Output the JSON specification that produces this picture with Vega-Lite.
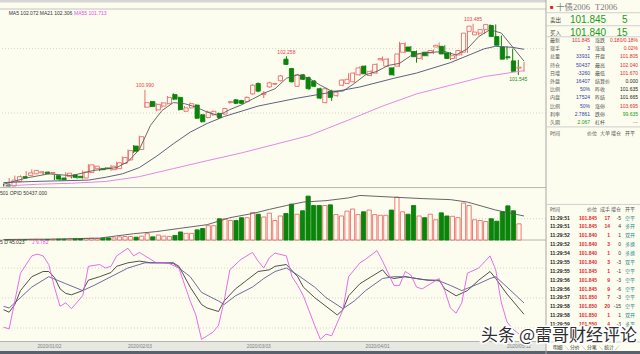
{
"$schema":"https://vega.github.io/schema/vega-lite/v6.json",
"width":640,"height":354,"padding":0,"autosize":{"type":"none"},
"background":"#fdfdef",
"config":{"view":{"stroke":null},"text":{"font":"Liberation Sans, Noto Sans CJK SC","baseline":"middle"}},
"datasets":{
"candles":[
{"i":0,"o":97.40,"h":97.45,"l":97.345,"c":97.36,"v":800},
{"i":1,"o":97.359,"h":97.661,"l":97.35,"c":97.582,"v":1000},
{"i":2,"o":97.529,"h":97.752,"l":97.49,"c":97.713,"v":1200},
{"i":3,"o":97.713,"h":97.752,"l":97.621,"c":97.661,"v":900},
{"i":4,"o":97.752,"h":97.923,"l":97.713,"c":97.857,"v":1300},
{"i":5,"o":97.818,"h":97.989,"l":97.779,"c":97.949,"v":1500},
{"i":6,"o":97.857,"h":97.949,"l":97.818,"c":97.897,"v":1200},
{"i":7,"o":97.884,"h":97.923,"l":97.792,"c":97.831,"v":1100},
{"i":8,"o":97.844,"h":97.91,"l":97.792,"c":97.87,"v":1300},
{"i":9,"o":97.752,"h":97.792,"l":97.582,"c":97.621,"v":1600},
{"i":10,"o":97.661,"h":97.713,"l":97.556,"c":97.595,"v":1500},
{"i":11,"o":97.713,"h":97.884,"l":97.661,"c":97.844,"v":1700},
{"i":12,"o":97.779,"h":97.818,"l":97.648,"c":97.687,"v":2300},
{"i":13,"o":97.726,"h":97.752,"l":97.634,"c":97.674,"v":3000},
{"i":14,"o":97.661,"h":97.949,"l":97.608,"c":97.884,"v":3000},
{"i":15,"o":97.87,"h":98.185,"l":97.818,"c":98.159,"v":3700},
{"i":16,"o":98.015,"h":98.159,"l":97.949,"c":98.107,"v":3000},
{"i":17,"o":98.015,"h":98.054,"l":97.923,"c":97.975,"v":3700},
{"i":18,"o":98.041,"h":98.067,"l":97.975,"c":98.015,"v":4450},
{"i":19,"o":97.975,"h":98.159,"l":97.923,"c":98.107,"v":4450},
{"i":20,"o":98.015,"h":98.277,"l":97.975,"c":98.238,"v":6640},
{"i":21,"o":98.211,"h":98.474,"l":98.172,"c":98.434,"v":7400},
{"i":22,"o":98.343,"h":98.736,"l":98.303,"c":98.697,"v":7400},
{"i":23,"o":98.867,"h":98.907,"l":98.605,"c":98.671,"v":5900},
{"i":24,"o":98.736,"h":99.261,"l":98.697,"c":99.221,"v":8100},
{"i":25,"o":100.336,"h":100.99,"l":100.31,"c":100.507,"v":13200},
{"i":26,"o":100.546,"h":100.572,"l":100.336,"c":100.363,"v":6640},
{"i":27,"o":100.231,"h":100.481,"l":100.179,"c":100.441,"v":10300},
{"i":28,"o":100.376,"h":100.533,"l":100.31,"c":100.494,"v":8100},
{"i":29,"o":100.467,"h":100.756,"l":100.441,"c":100.704,"v":7400},
{"i":30,"o":100.808,"h":100.861,"l":100.599,"c":100.638,"v":9560},
{"i":31,"o":100.704,"h":100.73,"l":100.205,"c":100.244,"v":16860},
{"i":32,"o":100.179,"h":100.376,"l":100.152,"c":100.31,"v":13940},
{"i":33,"o":100.31,"h":100.507,"l":100.284,"c":100.467,"v":13940},
{"i":34,"o":100.415,"h":100.441,"l":99.89,"c":99.917,"v":21240},
{"i":35,"o":100.048,"h":100.074,"l":99.759,"c":99.785,"v":24160},
{"i":36,"o":99.943,"h":100.205,"l":99.917,"c":100.152,"v":30000},
{"i":37,"o":100.048,"h":100.205,"l":100.008,"c":100.179,"v":30000},
{"i":38,"o":100.1,"h":100.126,"l":99.89,"c":99.943,"v":44600},
{"i":39,"o":100.074,"h":100.31,"l":100.048,"c":100.284,"v":44600},
{"i":40,"o":100.507,"h":100.572,"l":100.467,"c":100.546,"v":40950},
{"i":41,"o":100.612,"h":100.638,"l":100.454,"c":100.481,"v":40950},
{"i":42,"o":100.585,"h":100.612,"l":100.454,"c":100.481,"v":46790},
{"i":43,"o":100.546,"h":100.743,"l":100.52,"c":100.704,"v":46790},
{"i":44,"o":100.835,"h":101.202,"l":100.808,"c":101.163,"v":57740},
{"i":45,"o":101.228,"h":101.268,"l":100.9,"c":100.94,"v":54090},
{"i":46,"o":100.808,"h":100.94,"l":100.677,"c":100.861,"v":48250},
{"i":47,"o":101.097,"h":101.294,"l":101.071,"c":101.254,"v":56280},
{"i":48,"o":101.202,"h":101.254,"l":101.176,"c":101.228,"v":40950},
{"i":49,"o":101.333,"h":101.556,"l":101.307,"c":101.517,"v":50440},
{"i":50,"o":102.146,"h":102.258,"l":101.923,"c":101.95,"v":55550},
{"i":51,"o":101.792,"h":101.818,"l":101.268,"c":101.294,"v":75260},
{"i":52,"o":101.123,"h":101.595,"l":101.097,"c":101.556,"v":54090},
{"i":53,"o":101.556,"h":101.582,"l":101.359,"c":101.386,"v":61390},
{"i":54,"o":101.451,"h":101.49,"l":100.992,"c":101.031,"v":92050},
{"i":55,"o":101.32,"h":101.359,"l":101.097,"c":101.123,"v":72340},
{"i":56,"o":101.031,"h":101.071,"l":100.638,"c":100.677,"v":72340},
{"i":57,"o":100.507,"h":101.071,"l":100.481,"c":101.031,"v":72340},
{"i":58,"o":100.94,"h":100.992,"l":100.572,"c":100.704,"v":73800},
{"i":59,"o":100.769,"h":100.94,"l":100.73,"c":100.9,"v":53360},
{"i":60,"o":101.163,"h":101.386,"l":101.123,"c":101.359,"v":50440},
{"i":61,"o":101.228,"h":101.622,"l":101.202,"c":101.386,"v":60660},
{"i":62,"o":101.294,"h":101.648,"l":101.254,"c":101.622,"v":65040},
{"i":63,"o":101.556,"h":101.884,"l":101.517,"c":101.818,"v":53360},
{"i":64,"o":101.884,"h":101.91,"l":101.569,"c":101.595,"v":59200},
{"i":65,"o":101.53,"h":101.727,"l":101.504,"c":101.687,"v":62850},
{"i":66,"o":101.622,"h":101.989,"l":101.595,"c":101.95,"v":53360},
{"i":67,"o":102.12,"h":102.251,"l":102.081,"c":102.173,"v":51900},
{"i":68,"o":101.884,"h":102.186,"l":101.845,"c":102.146,"v":51900},
{"i":69,"o":101.818,"h":101.858,"l":101.517,"c":101.556,"v":62850},
{"i":70,"o":101.884,"h":102.802,"l":101.858,"c":102.343,"v":89860},
{"i":71,"o":102.409,"h":102.776,"l":102.369,"c":102.736,"v":59200},
{"i":72,"o":102.605,"h":102.645,"l":102.409,"c":102.448,"v":54090},
{"i":73,"o":102.435,"h":102.474,"l":102.015,"c":102.238,"v":72340},
{"i":74,"o":102.173,"h":102.382,"l":102.12,"c":102.343,"v":50440},
{"i":75,"o":102.409,"h":102.435,"l":102.251,"c":102.277,"v":46790},
{"i":76,"o":102.382,"h":102.514,"l":102.343,"c":102.474,"v":54090},
{"i":77,"o":102.605,"h":102.776,"l":102.579,"c":102.671,"v":42410},
{"i":78,"o":102.632,"h":102.671,"l":102.304,"c":102.343,"v":57010},
{"i":79,"o":102.382,"h":102.409,"l":102.12,"c":102.173,"v":50440},
{"i":80,"o":102.173,"h":102.304,"l":102.146,"c":102.277,"v":49710},
{"i":81,"o":102.304,"h":102.54,"l":102.277,"c":102.474,"v":46790},
{"i":82,"o":102.409,"h":103.196,"l":102.382,"c":103.13,"v":77450},
{"i":83,"o":103.196,"h":103.485,"l":103.169,"c":103.392,"v":72340},
{"i":84,"o":103.064,"h":103.196,"l":103.038,"c":103.169,"v":42410},
{"i":85,"o":103.13,"h":103.287,"l":103.104,"c":103.261,"v":40950},
{"i":86,"o":103.261,"h":103.47,"l":103.235,"c":103.458,"v":38760},
{"i":87,"o":103.419,"h":103.458,"l":102.973,"c":102.999,"v":44600},
{"i":88,"o":102.999,"h":103.038,"l":102.645,"c":102.671,"v":39490},
{"i":89,"o":102.605,"h":102.632,"l":102.12,"c":102.146,"v":59200},
{"i":90,"o":102.238,"h":102.54,"l":101.818,"c":102.199,"v":71610},
{"i":91,"o":102.081,"h":102.12,"l":101.545,"c":101.687,"v":61390},
{"i":92,"o":101.805,"h":102.04,"l":101.67,"c":101.845,"v":33931}
],
"ma":[
{"i":0,"s":"MA5","p":97.425},{"i":4,"s":"MA5","p":97.661},{"i":8,"s":"MA5","p":97.818},{"i":12,"s":"MA5","p":97.752},{"i":16,"s":"MA5","p":97.949},{"i":20,"s":"MA5","p":98.054},{"i":22,"s":"MA5","p":98.277},{"i":24,"s":"MA5","p":98.736},{"i":26,"s":"MA5","p":99.654},{"i":28,"s":"MA5","p":100.205},{"i":30,"s":"MA5","p":100.507},{"i":32,"s":"MA5","p":100.467},{"i":34,"s":"MA5","p":100.34},{"i":36,"s":"MA5","p":100.15},{"i":38,"s":"MA5","p":100.02},{"i":40,"s":"MA5","p":100.244},{"i":42,"s":"MA5","p":100.415},{"i":44,"s":"MA5","p":100.638},{"i":46,"s":"MA5","p":100.861},{"i":48,"s":"MA5","p":101.031},{"i":50,"s":"MA5","p":101.425},{"i":52,"s":"MA5","p":101.556},{"i":54,"s":"MA5","p":101.425},{"i":56,"s":"MA5","p":101.163},{"i":58,"s":"MA5","p":100.94},{"i":60,"s":"MA5","p":100.94},{"i":62,"s":"MA5","p":101.228},{"i":64,"s":"MA5","p":101.556},{"i":66,"s":"MA5","p":101.687},{"i":68,"s":"MA5","p":101.91},{"i":70,"s":"MA5","p":101.989},{"i":72,"s":"MA5","p":102.277},{"i":74,"s":"MA5","p":102.382},{"i":76,"s":"MA5","p":102.409},{"i":78,"s":"MA5","p":102.435},{"i":80,"s":"MA5","p":102.304},{"i":82,"s":"MA5","p":102.54},{"i":84,"s":"MA5","p":102.999},{"i":86,"s":"MA5","p":103.261},{"i":88,"s":"MA5","p":103.13},{"i":90,"s":"MA5","p":102.605},{"i":92,"s":"MA5","p":102.072},
{"i":0,"s":"MA21","p":97.49},{"i":5,"s":"MA21","p":97.529},{"i":10,"s":"MA21","p":97.556},{"i":15,"s":"MA21","p":97.582},{"i":18,"s":"MA21","p":97.687},{"i":21,"s":"MA21","p":97.818},{"i":24,"s":"MA21","p":98.054},{"i":27,"s":"MA21","p":98.474},{"i":30,"s":"MA21","p":98.95},{"i":33,"s":"MA21","p":99.392},{"i":36,"s":"MA21","p":99.72},{"i":39,"s":"MA21","p":99.982},{"i":42,"s":"MA21","p":100.179},{"i":45,"s":"MA21","p":100.376},{"i":48,"s":"MA21","p":100.507},{"i":52,"s":"MA21","p":100.677},{"i":58,"s":"MA21","p":100.9},{"i":63,"s":"MA21","p":101.097},{"i":69,"s":"MA21","p":101.425},{"i":73,"s":"MA21","p":101.622},{"i":79,"s":"MA21","p":102.015},{"i":85,"s":"MA21","p":102.54},{"i":87,"s":"MA21","p":102.632},{"i":90,"s":"MA21","p":102.592},{"i":92,"s":"MA21","p":102.52},
{"i":0,"s":"MA55","p":97.359},{"i":6,"s":"MA55","p":97.425},{"i":12,"s":"MA55","p":97.464},{"i":18,"s":"MA55","p":97.529},{"i":24,"s":"MA55","p":97.713},{"i":30,"s":"MA55","p":98.015},{"i":36,"s":"MA55","p":98.316},{"i":42,"s":"MA55","p":98.605},{"i":48,"s":"MA55","p":98.933},{"i":54,"s":"MA55","p":99.261},{"i":61,"s":"MA55","p":99.851},{"i":67,"s":"MA55","p":100.376},{"i":73,"s":"MA55","p":100.835},{"i":79,"s":"MA55","p":101.163},{"i":85,"s":"MA55","p":101.49},{"i":92,"s":"MA55","p":101.713}
],
"oi":[
{"i":0,"v":1070},{"i":8,"v":1800},{"i":17,"v":4000},{"i":23,"v":13200},{"i":27,"v":17600},{"i":31,"v":24160},{"i":36,"v":32190},{"i":40,"v":46790},{"i":44,"v":55550},{"i":47,"v":64310},{"i":50,"v":72340},{"i":53,"v":79640},{"i":57,"v":82560},{"i":61,"v":88400},{"i":63,"v":93510},{"i":69,"v":89860},{"i":74,"v":86940},{"i":79,"v":84750},{"i":82,"v":79640},{"i":87,"v":62850},{"i":92,"v":50437}
],
"kdj":[
{"i":0,"s":"K","v":38.3},{"i":1,"s":"K","v":35.8},{"i":2,"s":"K","v":43.5},{"i":3,"s":"K","v":57.4},{"i":5,"s":"K","v":71.3},{"i":7,"s":"K","v":76.5},{"i":8,"s":"K","v":76.5},{"i":9,"s":"K","v":70.6},{"i":10,"s":"K","v":59.1},{"i":11,"s":"K","v":54.6},{"i":12,"s":"K","v":53.2},{"i":14,"s":"K","v":57.4},{"i":15,"s":"K","v":67.8},{"i":17,"s":"K","v":71.3},{"i":19,"s":"K","v":75.5},{"i":20,"s":"K","v":81.7},{"i":22,"s":"K","v":85.2},{"i":24,"s":"K","v":86.9},{"i":26,"s":"K","v":85.2},{"i":28,"s":"K","v":85.2},{"i":30,"s":"K","v":85.2},{"i":31,"s":"K","v":81.7},{"i":33,"s":"K","v":60.9},{"i":35,"s":"K","v":43.5},{"i":36,"s":"K","v":40.0},{"i":38,"s":"K","v":36.5},{"i":39,"s":"K","v":47.0},{"i":41,"s":"K","v":59.1},{"i":43,"s":"K","v":67.8},{"i":45,"s":"K","v":76.5},{"i":47,"s":"K","v":78.2},{"i":48,"s":"K","v":81.7},{"i":50,"s":"K","v":83.5},{"i":52,"s":"K","v":71.3},{"i":53,"s":"K","v":60.9},{"i":55,"s":"K","v":50.4},{"i":57,"s":"K","v":41.7},{"i":59,"s":"K","v":33.0},{"i":60,"s":"K","v":38.3},{"i":61,"s":"K","v":52.2},{"i":63,"s":"K","v":64.3},{"i":65,"s":"K","v":71.3},{"i":67,"s":"K","v":78.2},{"i":68,"s":"K","v":71.3},{"i":69,"s":"K","v":69.5},{"i":71,"s":"K","v":71.3},{"i":73,"s":"K","v":69.5},{"i":75,"s":"K","v":67.8},{"i":77,"s":"K","v":67.8},{"i":78,"s":"K","v":59.1},{"i":80,"s":"K","v":52.2},{"i":82,"s":"K","v":57.4},{"i":84,"s":"K","v":67.8},{"i":86,"s":"K","v":76.5},{"i":87,"s":"K","v":69.5},{"i":89,"s":"K","v":53.9},{"i":92,"s":"K","v":33.7},
{"i":0,"s":"D","v":41.7},{"i":1,"s":"D","v":40.0},{"i":3,"s":"D","v":50.4},{"i":5,"s":"D","v":60.9},{"i":8,"s":"D","v":71.3},{"i":11,"s":"D","v":64.3},{"i":14,"s":"D","v":57.4},{"i":16,"s":"D","v":62.6},{"i":19,"s":"D","v":71.3},{"i":22,"s":"D","v":80.0},{"i":25,"s":"D","v":85.2},{"i":28,"s":"D","v":85.2},{"i":30,"s":"D","v":84.5},{"i":33,"s":"D","v":71.3},{"i":35,"s":"D","v":55.6},{"i":38,"s":"D","v":47.0},{"i":39,"s":"D","v":43.5},{"i":41,"s":"D","v":52.2},{"i":44,"s":"D","v":60.9},{"i":46,"s":"D","v":69.5},{"i":48,"s":"D","v":76.5},{"i":50,"s":"D","v":80.0},{"i":52,"s":"D","v":73.0},{"i":55,"s":"D","v":60.9},{"i":57,"s":"D","v":50.4},{"i":60,"s":"D","v":39.3},{"i":62,"s":"D","v":47.0},{"i":64,"s":"D","v":57.4},{"i":67,"s":"D","v":69.5},{"i":69,"s":"D","v":71.3},{"i":71,"s":"D","v":71.3},{"i":74,"s":"D","v":68.5},{"i":77,"s":"D","v":67.1},{"i":79,"s":"D","v":62.6},{"i":81,"s":"D","v":57.4},{"i":84,"s":"D","v":64.3},{"i":86,"s":"D","v":69.5},{"i":87,"s":"D","v":71.3},{"i":89,"s":"D","v":60.9},{"i":92,"s":"D","v":45.023},
{"i":0,"s":"J","v":20.9},{"i":1,"s":"J","v":19.1},{"i":2,"s":"J","v":47.0},{"i":3,"s":"J","v":74.8},{"i":5,"s":"J","v":92.1},{"i":6,"s":"J","v":93.9},{"i":7,"s":"J","v":92.1},{"i":8,"s":"J","v":83.5},{"i":9,"s":"J","v":60.9},{"i":10,"s":"J","v":41.7},{"i":11,"s":"J","v":45.2},{"i":12,"s":"J","v":39.3},{"i":14,"s":"J","v":52.2},{"i":15,"s":"J","v":81.7},{"i":17,"s":"J","v":83.5},{"i":18,"s":"J","v":80.0},{"i":19,"s":"J","v":81.7},{"i":20,"s":"J","v":92.1},{"i":22,"s":"J","v":99.8},{"i":23,"s":"J","v":92.1},{"i":24,"s":"J","v":95.6},{"i":25,"s":"J","v":92.1},{"i":27,"s":"J","v":85.2},{"i":28,"s":"J","v":85.2},{"i":29,"s":"J","v":85.2},{"i":31,"s":"J","v":80.0},{"i":33,"s":"J","v":47.0},{"i":34,"s":"J","v":33.0},{"i":35,"s":"J","v":8.7},{"i":36,"s":"J","v":12.2},{"i":37,"s":"J","v":15.7},{"i":38,"s":"J","v":22.6},{"i":39,"s":"J","v":47.0},{"i":40,"s":"J","v":78.2},{"i":42,"s":"J","v":88.7},{"i":44,"s":"J","v":95.6},{"i":45,"s":"J","v":86.9},{"i":46,"s":"J","v":80.0},{"i":47,"s":"J","v":90.4},{"i":48,"s":"J","v":94.9},{"i":50,"s":"J","v":92.1},{"i":51,"s":"J","v":71.3},{"i":52,"s":"J","v":62.6},{"i":53,"s":"J","v":52.2},{"i":55,"s":"J","v":22.6},{"i":56,"s":"J","v":8.7},{"i":57,"s":"J","v":13.9},{"i":58,"s":"J","v":12.2},{"i":60,"s":"J","v":38.3},{"i":61,"s":"J","v":71.3},{"i":63,"s":"J","v":85.2},{"i":64,"s":"J","v":88.7},{"i":66,"s":"J","v":97.4},{"i":67,"s":"J","v":86.9},{"i":69,"s":"J","v":62.6},{"i":70,"s":"J","v":62.6},{"i":71,"s":"J","v":76.5},{"i":72,"s":"J","v":73.0},{"i":73,"s":"J","v":60.9},{"i":74,"s":"J","v":59.1},{"i":75,"s":"J","v":62.6},{"i":77,"s":"J","v":69.5},{"i":78,"s":"J","v":57.4},{"i":79,"s":"J","v":40.0},{"i":80,"s":"J","v":34.8},{"i":81,"s":"J","v":45.2},{"i":82,"s":"J","v":74.8},{"i":84,"s":"J","v":80.0},{"i":86,"s":"J","v":92.1},{"i":87,"s":"J","v":78.2},{"i":88,"s":"J","v":45.2},{"i":89,"s":"J","v":26.1},{"i":90,"s":"J","v":19.1},{"i":92,"s":"J","v":9.782}
],
"dates":[{"i":9,"d":"2020/01/02"},{"i":25,"d":"2020/02/03"},{"i":46,"d":"2020/03/03"},{"i":67,"d":"2020/04/01"},{"i":92,"d":"2020/05/12"}],
"rb":[{"r":1,"a":"卖出","b":"101.845","q":"5"},{"r":2,"a":"买入","b":"101.840","q":"15"}],
"rq":[
{"r":0,"l1":"最新","v1":"101.845","k1":"up","l2":"涨跌","v2":"0.180/0.18%","k2":"up"},
{"r":1,"l1":"现手","v1":"3","k1":"vol","l2":"涨速","v2":"0.02%","k2":"up"},
{"r":2,"l1":"总量","v1":"33931","k1":"vol","l2":"开盘","v2":"101.805","k2":"up"},
{"r":3,"l1":"持仓","v1":"50437","k1":"vol","l2":"最高","v2":"102.040","k2":"up"},
{"r":4,"l1":"日增","v1":"-3260","k1":"vol","l2":"最低","v2":"101.670","k2":"up"},
{"r":5,"l1":"外盘","v1":"16407","k1":"vol","l2":"结算价","v2":"0.000","k2":"flat"},
{"r":6,"l1":"比例","v1":"50%","k1":"vol","l2":"昨收","v2":"101.635","k2":"flat"},
{"r":7,"l1":"内盘","v1":"17524","k1":"vol","l2":"昨结","v2":"101.665","k2":"flat"},
{"r":8,"l1":"比例","v1":"50%","k1":"vol","l2":"涨停","v2":"103.695","k2":"up"},
{"r":9,"l1":"利率","v1":"2.7861","k1":"vol","l2":"跌停","v2":"99.635","k2":"down"},
{"r":10,"l1":"久期","v1":"2.067","k1":"down","l2":"杠杆","v2":"---","k2":"lab"}
],
"hd":[{"h":0,"a":"时间","b":"价位","c":"大单","d":"增仓","e":"开平"},{"h":1,"a":"时间","b":"价位","c":"成手","d":"增仓","e":"开平"}],
"tr":[
{"r":0,"t":"11:29:51","p":"101.845","n":"17","d":"-5","o":"空平"},
{"r":1,"t":"11:29:51","p":"101.845","n":"14","d":"4","o":"多开"},
{"r":2,"t":"11:29:52","p":"101.840","n":"1","d":"1","o":"双开"},
{"r":3,"t":"11:29:52","p":"101.840","n":"3","d":"0","o":"多换"},
{"r":4,"t":"11:29:54","p":"101.840","n":"1","d":"0","o":"多换"},
{"r":5,"t":"11:29:55","p":"101.840","n":"3","d":"-3","o":"双平"},
{"r":6,"t":"11:29:55","p":"101.845","n":"1","d":"-1","o":"空平"},
{"r":7,"t":"11:29:56","p":"101.845","n":"9","d":"-3","o":"空平"},
{"r":8,"t":"11:29:56","p":"101.845","n":"9","d":"-6","o":"空平"},
{"r":9,"t":"11:29:57","p":"101.850","n":"7","d":"-3","o":"空平"},
{"r":10,"t":"11:29:58","p":"101.850","n":"20","d":"-15","o":"空平"},
{"r":11,"t":"11:29:58","p":"101.850","n":"1","d":"1","o":"双开"},
{"r":12,"t":"11:29:59","p":"101.850","n":"4","d":"-3","o":"多平"}
]
},
"layer":[
{"data":{"values":[{}]},"mark":{"type":"rect","color":"#d6d6d6"},"encoding":{"x":{"datum":-0.8,"type":"quantitative","scale":{"domain":[0,92],"range":[3.5,524],"nice":false,"zero":false},"axis":null},"x2":{"datum":95.89},"y":{"datum":104.38,"type":"quantitative","scale":{"domain":[97.36,104.04],"range":[186,9],"nice":false,"zero":false},"axis":null},"y2":{"datum":104.29}}},
{"data":{"values":[{}]},"mark":{"type":"rect","color":"#e8e8e3"},"encoding":{"x":{"datum":-0.8,"type":"quantitative","scale":{"domain":[0,92],"range":[3.5,524],"nice":false,"zero":false},"axis":null},"x2":{"datum":95.89},"y":{"datum":6,"type":"quantitative","scale":{"domain":[5,103],"range":[343,245],"nice":false,"zero":false},"axis":null},"y2":{"datum":-3}}},
{"data":{"values":[{}]},"mark":{"type":"rect","color":"#59616d"},"encoding":{"x":{"datum":-0.8,"type":"quantitative","scale":{"domain":[0,92],"range":[3.5,524],"nice":false,"zero":false},"axis":null},"x2":{"datum":112.6},"y":{"datum":-3,"type":"quantitative","scale":{"domain":[5,103],"range":[343,245],"nice":false,"zero":false},"axis":null},"y2":{"datum":-8}}},
{"data":{"values":[{"p":102.542},{"p":100.115}]},"mark":{"type":"rule","color":"#c8c8b8","strokeDash":[1,2],"strokeWidth":0.8},"encoding":{"x":{"datum":-0.8,"type":"quantitative","scale":{"domain":[0,92],"range":[3.5,524],"nice":false,"zero":false},"axis":null},"x2":{"datum":95.89},"y":{"field":"p","type":"quantitative","scale":{"domain":[97.36,104.04],"range":[186,9],"nice":false,"zero":false},"axis":null}}},
{"data":{"values":[{"v":44713}]},"mark":{"type":"rule","color":"#c8c8b8","strokeDash":[1,2],"strokeWidth":0.8},"encoding":{"x":{"datum":-0.8,"type":"quantitative","scale":{"domain":[0,92],"range":[3.5,524],"nice":false,"zero":false},"axis":null},"x2":{"datum":95.89},"y":{"field":"v","type":"quantitative","scale":{"domain":[0,110000],"range":[240,187.6],"nice":false,"zero":false},"axis":null}}},
{"data":{"values":[{"v":80},{"v":50},{"v":20}]},"mark":{"type":"rule","color":"#c8c8b8","strokeDash":[1,2],"strokeWidth":0.8},"encoding":{"x":{"datum":-0.8,"type":"quantitative","scale":{"domain":[0,92],"range":[3.5,524],"nice":false,"zero":false},"axis":null},"x2":{"datum":95.89},"y":{"field":"v","type":"quantitative","scale":{"domain":[5,103],"range":[343,245],"nice":false,"zero":false},"axis":null}}},
{"data":{"values":[{}]},"mark":{"type":"rule","color":"#c4c4c4"},"encoding":{"x":{"datum":-0.8,"type":"quantitative","scale":{"domain":[0,92],"range":[3.5,524],"nice":false,"zero":false},"axis":null},"x2":{"datum":95.89},"y":{"datum":104.04,"type":"quantitative","scale":{"domain":[97.36,104.04],"range":[186,9],"nice":false,"zero":false},"axis":null}}},
{"data":{"values":[{"v":110000},{"v":0}]},"mark":{"type":"rule","color":"#b4b4b4"},"encoding":{"x":{"datum":-0.8,"type":"quantitative","scale":{"domain":[0,92],"range":[3.5,524],"nice":false,"zero":false},"axis":null},"x2":{"datum":95.89},"y":{"field":"v","type":"quantitative","scale":{"domain":[0,110000],"range":[240,187.6],"nice":false,"zero":false},"axis":null}}},
{"data":{"values":[{}]},"mark":{"type":"rule","color":"#b4b4b4"},"encoding":{"x":{"datum":-0.8,"type":"quantitative","scale":{"domain":[0,92],"range":[3.5,524],"nice":false,"zero":false},"axis":null},"x2":{"datum":95.89},"y":{"datum":6.5,"type":"quantitative","scale":{"domain":[5,103],"range":[343,245],"nice":false,"zero":false},"axis":null}}},
{"data":{"values":[{}]},"mark":{"type":"rule","color":"#a9a9a9"},"encoding":{"x":{"datum":95.89,"type":"quantitative","scale":{"domain":[0,92],"range":[3.5,524],"nice":false,"zero":false},"axis":null}}},
{"data":{"name":"candles"},"mark":{"type":"rule","strokeWidth":1},"encoding":{"x":{"field":"i","type":"quantitative","scale":{"domain":[0,92],"range":[3.5,524],"nice":false,"zero":false},"axis":null},"y":{"field":"l","type":"quantitative","scale":{"domain":[97.36,104.04],"range":[186,9],"nice":false,"zero":false},"axis":null},"y2":{"field":"h"},"color":{"condition":{"test":"datum.c >= datum.o","value":"#ec6b6b"},"value":"#0a840a"}}},
{"data":{"name":"candles"},"mark":{"type":"bar","size":4.2,"strokeWidth":0.9},"encoding":{"x":{"field":"i","type":"quantitative","scale":{"domain":[0,92],"range":[3.5,524],"nice":false,"zero":false},"axis":null},"y":{"field":"o","type":"quantitative","scale":{"domain":[97.36,104.04],"range":[186,9],"nice":false,"zero":false},"axis":null},"y2":{"field":"c"},"fill":{"condition":{"test":"datum.c >= datum.o","value":"#fdfdef"},"value":"#0a840a"},"stroke":{"condition":{"test":"datum.c >= datum.o","value":"#ec6b6b"},"value":"#0a840a"}}},
{"data":{"name":"ma"},"mark":{"type":"line","strokeWidth":0.9},"encoding":{"x":{"field":"i","type":"quantitative","scale":{"domain":[0,92],"range":[3.5,524],"nice":false,"zero":false},"axis":null},"y":{"field":"p","type":"quantitative","scale":{"domain":[97.36,104.04],"range":[186,9],"nice":false,"zero":false},"axis":null},"color":{"field":"s","type":"nominal","scale":{"domain":["MA5","MA21","MA55"],"range":["#5a5a5a","#4b5078","#e27ae2"]},"legend":null}}},
{"data":{"values":[{"i":25,"p":100.99},{"i":50,"p":102.258},{"i":83,"p":103.485}]},"mark":{"type":"text","fontSize":5,"color":"#e04848","baseline":"bottom","dy":-1.5},"encoding":{"x":{"field":"i","type":"quantitative","scale":{"domain":[0,92],"range":[3.5,524],"nice":false,"zero":false},"axis":null},"y":{"field":"p","type":"quantitative","scale":{"domain":[97.36,104.04],"range":[186,9],"nice":false,"zero":false},"axis":null},"text":{"field":"p","type":"quantitative","format":".3f"}}},
{"data":{"values":[{"i":91,"p":101.545}]},"mark":{"type":"text","fontSize":5,"color":"#208a20","baseline":"top","dy":1.5},"encoding":{"x":{"field":"i","type":"quantitative","scale":{"domain":[0,92],"range":[3.5,524],"nice":false,"zero":false},"axis":null},"y":{"field":"p","type":"quantitative","scale":{"domain":[97.36,104.04],"range":[186,9],"nice":false,"zero":false},"axis":null},"text":{"field":"p","type":"quantitative","format":".3f"}}},
{"data":{"name":"candles"},"mark":{"type":"bar","size":4.2,"strokeWidth":0.9},"encoding":{"x":{"field":"i","type":"quantitative","scale":{"domain":[0,92],"range":[3.5,524],"nice":false,"zero":false},"axis":null},"y":{"field":"v","type":"quantitative","scale":{"domain":[0,110000],"range":[240,187.6],"nice":false,"zero":false},"axis":null},"y2":{"datum":0},"fill":{"condition":{"test":"datum.c >= datum.o","value":"#fdfdef"},"value":"#0a840a"},"stroke":{"condition":{"test":"datum.c >= datum.o","value":"#ec6b6b"},"value":"#0a840a"}}},
{"data":{"name":"oi"},"mark":{"type":"line","color":"#555555","strokeWidth":0.9},"encoding":{"x":{"field":"i","type":"quantitative","scale":{"domain":[0,92],"range":[3.5,524],"nice":false,"zero":false},"axis":null},"y":{"field":"v","type":"quantitative","scale":{"domain":[0,110000],"range":[240,187.6],"nice":false,"zero":false},"axis":null}}},
{"data":{"name":"kdj"},"mark":{"type":"line","strokeWidth":0.9},"encoding":{"x":{"field":"i","type":"quantitative","scale":{"domain":[0,92],"range":[3.5,524],"nice":false,"zero":false},"axis":null},"y":{"field":"v","type":"quantitative","scale":{"domain":[5,103],"range":[343,245],"nice":false,"zero":false},"axis":null},"color":{"field":"s","type":"nominal","scale":{"domain":["K","D","J"],"range":["#3c3c3c","#5c5c94","#e45ee4"]},"legend":null}}},
{"data":{"values":[{"t":"MA5 102.072 MA21 102.306"}]},"mark":{"type":"text","align":"left","fontSize":5,"color":"#333333"},"encoding":{"x":{"datum":0.92,"type":"quantitative","scale":{"domain":[0,92],"range":[3.5,524],"nice":false,"zero":false},"axis":null},"y":{"datum":103.9,"type":"quantitative","scale":{"domain":[97.36,104.04],"range":[186,9],"nice":false,"zero":false},"axis":null},"text":{"field":"t"}}},
{"data":{"values":[{"t":"MA55 101.713"}]},"mark":{"type":"text","align":"left","fontSize":5,"color":"#e050e0"},"encoding":{"x":{"datum":12.46,"type":"quantitative","scale":{"domain":[0,92],"range":[3.5,524],"nice":false,"zero":false},"axis":null},"y":{"datum":103.9,"type":"quantitative","scale":{"domain":[97.36,104.04],"range":[186,9],"nice":false,"zero":false},"axis":null},"text":{"field":"t"}}},
{"data":{"values":[{"t":"501  OPID 50437.000"}]},"mark":{"type":"text","align":"left","fontSize":5,"color":"#333333"},"encoding":{"x":{"datum":-0.62,"type":"quantitative","scale":{"domain":[0,92],"range":[3.5,524],"nice":false,"zero":false},"axis":null},"y":{"datum":99712,"type":"quantitative","scale":{"domain":[0,110000],"range":[240,187.6],"nice":false,"zero":false},"axis":null},"text":{"field":"t"}}},
{"data":{"values":[{"t":"5  D 45.023"}]},"mark":{"type":"text","align":"left","fontSize":5,"color":"#333333"},"encoding":{"x":{"datum":-0.62,"type":"quantitative","scale":{"domain":[0,92],"range":[3.5,524],"nice":false,"zero":false},"axis":null},"y":{"datum":106,"type":"quantitative","scale":{"domain":[5,103],"range":[343,245],"nice":false,"zero":false},"axis":null},"text":{"field":"t"}}},
{"data":{"values":[{"t":"J 9.782"}]},"mark":{"type":"text","align":"left","fontSize":5,"color":"#e050e0"},"encoding":{"x":{"datum":5.04,"type":"quantitative","scale":{"domain":[0,92],"range":[3.5,524],"nice":false,"zero":false},"axis":null},"y":{"datum":106,"type":"quantitative","scale":{"domain":[5,103],"range":[343,245],"nice":false,"zero":false},"axis":null},"text":{"field":"t"}}},
{"data":{"name":"dates"},"mark":{"type":"text","fontSize":4.8,"color":"#808080","dx":-5},"encoding":{"x":{"field":"i","type":"quantitative","scale":{"domain":[0,92],"range":[3.5,524],"nice":false,"zero":false},"axis":null},"y":{"datum":1,"type":"quantitative","scale":{"domain":[5,103],"range":[343,245],"nice":false,"zero":false},"axis":null},"text":{"field":"d"}}},
{"data":{"values":[{"y":0.48},{"y":1.48},{"y":2.33}]},"mark":{"type":"rule","color":"#cfcfcf"},"encoding":{"x":{"datum":-0.7,"type":"quantitative","scale":{"domain":[0,1,2,3,4,5,6,7,8,9,10],"range":[550,556,590,594,595,597,610,615,621,625,638],"nice":false,"zero":false},"axis":null},"x2":{"datum":10.2},"y":{"field":"y","type":"quantitative","scale":{"domain":[0,2],"range":[6.5,32.5],"nice":false,"zero":false},"axis":null}}},
{"data":{"values":[{}]},"mark":{"type":"rule","color":"#cfcfcf"},"encoding":{"x":{"datum":-0.7,"type":"quantitative","scale":{"domain":[0,1,2,3,4,5,6,7,8,9,10],"range":[550,556,590,594,595,597,610,615,621,625,638],"nice":false,"zero":false},"axis":null},"x2":{"datum":10.2},"y":{"datum":10.6,"type":"quantitative","scale":{"domain":[0,10],"range":[40,122],"nice":false,"zero":false},"axis":null}}},
{"data":{"values":[{}]},"mark":{"type":"rule","color":"#cfcfcf"},"encoding":{"x":{"datum":-0.7,"type":"quantitative","scale":{"domain":[0,1,2,3,4,5,6,7,8,9,10],"range":[550,556,590,594,595,597,610,615,621,625,638],"nice":false,"zero":false},"axis":null},"x2":{"datum":10.2},"y":{"datum":0.94,"type":"quantitative","scale":{"domain":[0,1],"range":[132.5,209],"nice":false,"zero":false},"axis":null}}},
{"data":{"values":[{}]},"mark":{"type":"rule","color":"#cfcfcf"},"encoding":{"x":{"datum":-0.7,"type":"quantitative","scale":{"domain":[0,1,2,3,4,5,6,7,8,9,10],"range":[550,556,590,594,595,597,610,615,621,625,638],"nice":false,"zero":false},"axis":null},"x2":{"datum":10.2},"y":{"datum":14.01,"type":"quantitative","scale":{"domain":[0,13],"range":[217.5,333],"nice":false,"zero":false},"axis":null}}},
{"data":{"values":[{"t":"■"}]},"mark":{"type":"text","align":"left","fontSize":6,"color":"#e02020"},"encoding":{"x":{"datum":0,"type":"quantitative","scale":{"domain":[0,1,2,3,4,5,6,7,8,9,10],"range":[550,556,590,594,595,597,610,615,621,625,638],"nice":false,"zero":false},"axis":null},"y":{"datum":0,"type":"quantitative","scale":{"domain":[0,2],"range":[6.5,32.5],"nice":false,"zero":false},"axis":null},"text":{"field":"t"}}},
{"data":{"values":[{"a":"十债2006","b":"T2006"}]},"mark":{"type":"text","align":"left","fontSize":8.5,"color":"#7b7b7b","font":"Liberation Serif, Noto Sans CJK SC"},"encoding":{"x":{"datum":1,"type":"quantitative","scale":{"domain":[0,1,2,3,4,5,6,7,8,9,10],"range":[550,556,590,594,595,597,610,615,621,625,638],"nice":false,"zero":false},"axis":null},"y":{"datum":0,"type":"quantitative","scale":{"domain":[0,2],"range":[6.5,32.5],"nice":false,"zero":false},"axis":null},"text":{"field":"a"}}},
{"data":{"values":[{"a":"十债2006","b":"T2006"}]},"mark":{"type":"text","align":"left","fontSize":8.5,"color":"#7b7b7b","font":"Liberation Serif, Noto Sans CJK SC"},"encoding":{"x":{"datum":4,"type":"quantitative","scale":{"domain":[0,1,2,3,4,5,6,7,8,9,10],"range":[550,556,590,594,595,597,610,615,621,625,638],"nice":false,"zero":false},"axis":null},"y":{"datum":0,"type":"quantitative","scale":{"domain":[0,2],"range":[6.5,32.5],"nice":false,"zero":false},"axis":null},"text":{"field":"b"}}},
{"data":{"name":"rb"},"mark":{"type":"text","align":"left","fontSize":5.5,"color":"#444444"},"encoding":{"x":{"datum":0,"type":"quantitative","scale":{"domain":[0,1,2,3,4,5,6,7,8,9,10],"range":[550,556,590,594,595,597,610,615,621,625,638],"nice":false,"zero":false},"axis":null},"y":{"field":"r","type":"quantitative","scale":{"domain":[0,2],"range":[6.5,32.5],"nice":false,"zero":false},"axis":null},"text":{"field":"a"}}},
{"data":{"name":"rb"},"mark":{"type":"text","align":"right","fontSize":10,"color":"#179c17"},"encoding":{"x":{"datum":5.7,"type":"quantitative","scale":{"domain":[0,1,2,3,4,5,6,7,8,9,10],"range":[550,556,590,594,595,597,610,615,621,625,638],"nice":false,"zero":false},"axis":null},"y":{"field":"r","type":"quantitative","scale":{"domain":[0,2],"range":[6.5,32.5],"nice":false,"zero":false},"axis":null},"text":{"field":"b"}}},
{"data":{"name":"rb"},"mark":{"type":"text","align":"right","fontSize":10,"color":"#179c17"},"encoding":{"x":{"datum":9.2,"type":"quantitative","scale":{"domain":[0,1,2,3,4,5,6,7,8,9,10],"range":[550,556,590,594,595,597,610,615,621,625,638],"nice":false,"zero":false},"axis":null},"y":{"field":"r","type":"quantitative","scale":{"domain":[0,2],"range":[6.5,32.5],"nice":false,"zero":false},"axis":null},"text":{"field":"q"}}},
{"data":{"name":"rq"},"mark":{"type":"text","align":"left","fontSize":5,"color":"#555555"},"encoding":{"x":{"datum":0,"type":"quantitative","scale":{"domain":[0,1,2,3,4,5,6,7,8,9,10],"range":[550,556,590,594,595,597,610,615,621,625,638],"nice":false,"zero":false},"axis":null},"y":{"field":"r","type":"quantitative","scale":{"domain":[0,10],"range":[40,122],"nice":false,"zero":false},"axis":null},"text":{"field":"l1"}}},
{"data":{"name":"rq"},"mark":{"type":"text","align":"right","fontSize":5},"encoding":{"x":{"datum":2,"type":"quantitative","scale":{"domain":[0,1,2,3,4,5,6,7,8,9,10],"range":[550,556,590,594,595,597,610,615,621,625,638],"nice":false,"zero":false},"axis":null},"y":{"field":"r","type":"quantitative","scale":{"domain":[0,10],"range":[40,122],"nice":false,"zero":false},"axis":null},"text":{"field":"v1"},"color":{"field":"k1","type":"nominal","scale":{"domain":["up","down","vol","flat","lab"],"range":["#e3262e","#179c17","#2c3fa6","#222222","#777777"]},"legend":null}}},
{"data":{"name":"rq"},"mark":{"type":"text","align":"left","fontSize":5,"color":"#555555"},"encoding":{"x":{"datum":4,"type":"quantitative","scale":{"domain":[0,1,2,3,4,5,6,7,8,9,10],"range":[550,556,590,594,595,597,610,615,621,625,638],"nice":false,"zero":false},"axis":null},"y":{"field":"r","type":"quantitative","scale":{"domain":[0,10],"range":[40,122],"nice":false,"zero":false},"axis":null},"text":{"field":"l2"}}},
{"data":{"name":"rq"},"mark":{"type":"text","align":"right","fontSize":5},"encoding":{"x":{"datum":10,"type":"quantitative","scale":{"domain":[0,1,2,3,4,5,6,7,8,9,10],"range":[550,556,590,594,595,597,610,615,621,625,638],"nice":false,"zero":false},"axis":null},"y":{"field":"r","type":"quantitative","scale":{"domain":[0,10],"range":[40,122],"nice":false,"zero":false},"axis":null},"text":{"field":"v2"},"color":{"field":"k2","type":"nominal","scale":{"domain":["up","down","vol","flat","lab"],"range":["#e3262e","#179c17","#2c3fa6","#222222","#777777"]},"legend":null}}},
{"data":{"name":"hd"},"mark":{"type":"text","align":"left","fontSize":5,"color":"#555555"},"encoding":{"x":{"datum":0,"type":"quantitative","scale":{"domain":[0,1,2,3,4,5,6,7,8,9,10],"range":[550,556,590,594,595,597,610,615,621,625,638],"nice":false,"zero":false},"axis":null},"y":{"field":"h","type":"quantitative","scale":{"domain":[0,1],"range":[132.5,209],"nice":false,"zero":false},"axis":null},"text":{"field":"a"}}},
{"data":{"name":"hd"},"mark":{"type":"text","align":"right","fontSize":5,"color":"#555555"},"encoding":{"x":{"datum":5,"type":"quantitative","scale":{"domain":[0,1,2,3,4,5,6,7,8,9,10],"range":[550,556,590,594,595,597,610,615,621,625,638],"nice":false,"zero":false},"axis":null},"y":{"field":"h","type":"quantitative","scale":{"domain":[0,1],"range":[132.5,209],"nice":false,"zero":false},"axis":null},"text":{"field":"b"}}},
{"data":{"name":"hd"},"mark":{"type":"text","align":"right","fontSize":5,"color":"#555555"},"encoding":{"x":{"datum":6,"type":"quantitative","scale":{"domain":[0,1,2,3,4,5,6,7,8,9,10],"range":[550,556,590,594,595,597,610,615,621,625,638],"nice":false,"zero":false},"axis":null},"y":{"field":"h","type":"quantitative","scale":{"domain":[0,1],"range":[132.5,209],"nice":false,"zero":false},"axis":null},"text":{"field":"c"}}},
{"data":{"name":"hd"},"mark":{"type":"text","align":"right","fontSize":5,"color":"#555555"},"encoding":{"x":{"datum":8,"type":"quantitative","scale":{"domain":[0,1,2,3,4,5,6,7,8,9,10],"range":[550,556,590,594,595,597,610,615,621,625,638],"nice":false,"zero":false},"axis":null},"y":{"field":"h","type":"quantitative","scale":{"domain":[0,1],"range":[132.5,209],"nice":false,"zero":false},"axis":null},"text":{"field":"d"}}},
{"data":{"name":"hd"},"mark":{"type":"text","align":"left","fontSize":5,"color":"#555555"},"encoding":{"x":{"datum":9,"type":"quantitative","scale":{"domain":[0,1,2,3,4,5,6,7,8,9,10],"range":[550,556,590,594,595,597,610,615,621,625,638],"nice":false,"zero":false},"axis":null},"y":{"field":"h","type":"quantitative","scale":{"domain":[0,1],"range":[132.5,209],"nice":false,"zero":false},"axis":null},"text":{"field":"e"}}},
{"data":{"name":"tr"},"mark":{"type":"text","align":"left","fontSize":5,"fontWeight":"bold","color":"#222222"},"encoding":{"x":{"datum":0,"type":"quantitative","scale":{"domain":[0,1,2,3,4,5,6,7,8,9,10],"range":[550,556,590,594,595,597,610,615,621,625,638],"nice":false,"zero":false},"axis":null},"y":{"field":"r","type":"quantitative","scale":{"domain":[0,13],"range":[217.5,333],"nice":false,"zero":false},"axis":null},"text":{"field":"t"}}},
{"data":{"name":"tr"},"mark":{"type":"text","align":"right","fontSize":5,"fontWeight":"bold","color":"#e3262e"},"encoding":{"x":{"datum":5,"type":"quantitative","scale":{"domain":[0,1,2,3,4,5,6,7,8,9,10],"range":[550,556,590,594,595,597,610,615,621,625,638],"nice":false,"zero":false},"axis":null},"y":{"field":"r","type":"quantitative","scale":{"domain":[0,13],"range":[217.5,333],"nice":false,"zero":false},"axis":null},"text":{"field":"p"}}},
{"data":{"name":"tr"},"mark":{"type":"text","align":"right","fontSize":5,"fontWeight":"bold","color":"#e3262e"},"encoding":{"x":{"datum":6,"type":"quantitative","scale":{"domain":[0,1,2,3,4,5,6,7,8,9,10],"range":[550,556,590,594,595,597,610,615,621,625,638],"nice":false,"zero":false},"axis":null},"y":{"field":"r","type":"quantitative","scale":{"domain":[0,13],"range":[217.5,333],"nice":false,"zero":false},"axis":null},"text":{"field":"n"}}},
{"data":{"name":"tr"},"mark":{"type":"text","align":"right","fontSize":5,"color":"#333333"},"encoding":{"x":{"datum":8,"type":"quantitative","scale":{"domain":[0,1,2,3,4,5,6,7,8,9,10],"range":[550,556,590,594,595,597,610,615,621,625,638],"nice":false,"zero":false},"axis":null},"y":{"field":"r","type":"quantitative","scale":{"domain":[0,13],"range":[217.5,333],"nice":false,"zero":false},"axis":null},"text":{"field":"d"}}},
{"data":{"name":"tr"},"mark":{"type":"text","align":"left","fontSize":5,"color":"#2f8f8f"},"encoding":{"x":{"datum":9,"type":"quantitative","scale":{"domain":[0,1,2,3,4,5,6,7,8,9,10],"range":[550,556,590,594,595,597,610,615,621,625,638],"nice":false,"zero":false},"axis":null},"y":{"field":"r","type":"quantitative","scale":{"domain":[0,13],"range":[217.5,333],"nice":false,"zero":false},"axis":null},"text":{"field":"o"}}},
{"data":{"values":[{"t":"明细 ╲ 分价 ╲ 分笔 ╲ 统计 ╱"}]},"mark":{"type":"text","align":"left","fontSize":4.8,"color":"#333333","dx":3},"encoding":{"x":{"datum":0,"type":"quantitative","scale":{"domain":[0,1,2,3,4,5,6,7,8,9,10],"range":[550,556,590,594,595,597,610,615,621,625,638],"nice":false,"zero":false},"axis":null},"y":{"datum":14.68,"type":"quantitative","scale":{"domain":[0,13],"range":[217.5,333],"nice":false,"zero":false},"axis":null},"text":{"field":"t"}}},
{"data":{"values":[{"t":"头条 @雷哥财经评论"}]},"mark":{"type":"text","align":"right","fontSize":17,"font":"Noto Sans CJK SC","color":"#ffffff","stroke":"#ffffff","strokeWidth":3},"encoding":{"x":{"datum":111.97,"type":"quantitative","scale":{"domain":[0,92],"range":[3.5,524],"nice":false,"zero":false},"axis":null},"y":{"datum":12,"type":"quantitative","scale":{"domain":[5,103],"range":[343,245],"nice":false,"zero":false},"axis":null},"text":{"field":"t"}}},
{"data":{"values":[{"t":"头条 @雷哥财经评论"}]},"mark":{"type":"text","align":"right","fontSize":17,"font":"Noto Sans CJK SC","color":"#2f2f2f"},"encoding":{"x":{"datum":111.97,"type":"quantitative","scale":{"domain":[0,92],"range":[3.5,524],"nice":false,"zero":false},"axis":null},"y":{"datum":12,"type":"quantitative","scale":{"domain":[5,103],"range":[343,245],"nice":false,"zero":false},"axis":null},"text":{"field":"t"}}}
],
"resolve":{"scale":{"x":"independent","y":"independent","color":"independent"}}
}
